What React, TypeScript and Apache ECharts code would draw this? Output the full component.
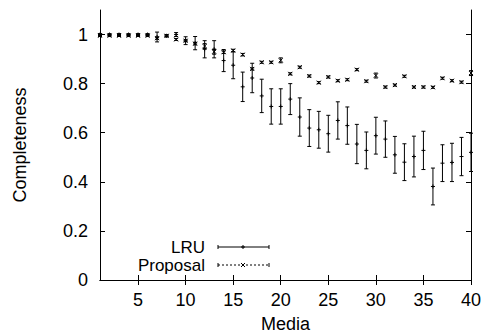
import React, { useEffect, useRef } from "react";
import * as echarts from "echarts";

const media = [1, 2, 3, 4, 5, 6, 7, 8, 9, 10, 11, 12, 13, 14, 15, 16, 17, 18, 19, 20, 21, 22, 23, 24, 25, 26, 27, 28, 29, 30, 31, 32, 33, 34, 35, 36, 37, 38, 39, 40];
const lruMean = [1.0, 1.0, 1.0, 1.0, 1.0, 1.0, 0.99, 0.995, 1.0, 0.975, 0.965, 0.94, 0.94, 0.894, 0.875, 0.787, 0.823, 0.75, 0.707, 0.707, 0.737, 0.664, 0.619, 0.612, 0.596, 0.65, 0.629, 0.554, 0.528, 0.588, 0.574, 0.51, 0.48, 0.503, 0.528, 0.381, 0.476, 0.479, 0.503, 0.52];
const lruErr = [0.004, 0.004, 0.004, 0.004, 0.004, 0.004, 0.02, 0.005, 0.008, 0.016, 0.027, 0.035, 0.035, 0.045, 0.055, 0.06, 0.06, 0.068, 0.072, 0.072, 0.063, 0.078, 0.075, 0.075, 0.075, 0.076, 0.076, 0.08, 0.075, 0.075, 0.074, 0.075, 0.075, 0.083, 0.078, 0.075, 0.075, 0.078, 0.078, 0.078];
const propMean = [0.995, 0.995, 0.995, 0.995, 0.995, 0.995, 0.985, 0.995, 0.98, 0.975, 0.963, 0.953, 0.93, 0.928, 0.935, 0.918, 0.86, 0.887, 0.887, 0.895, 0.84, 0.867, 0.831, 0.804, 0.827, 0.812, 0.816, 0.857, 0.81, 0.833, 0.786, 0.794, 0.83, 0.786, 0.786, 0.785, 0.822, 0.812, 0.806, 0.843];
const propErr = [0.003, 0.003, 0.003, 0.003, 0.003, 0.003, 0.004, 0.003, 0.004, 0.004, 0.005, 0.01, 0.01, 0.005, 0.005, 0.005, 0.004, 0.004, 0.004, 0.01, 0.004, 0.004, 0.004, 0.004, 0.004, 0.004, 0.004, 0.004, 0.004, 0.01, 0.004, 0.004, 0.004, 0.004, 0.004, 0.004, 0.004, 0.004, 0.004, 0.01];
const xTicks = [5, 10, 15, 20, 25, 30, 35, 40];
const yTicks = [0, 0.2, 0.4, 0.6, 0.8, 1];

const FONT = "'Liberation Sans', Arial, Helvetica, sans-serif";
const FS = 18;

function makeRender(kind: "plus" | "cross") {
  return (params: any, api: any) => {
    const x = api.value(0);
    const y = api.value(1);
    const lo = api.value(2);
    const hi = api.value(3);
    const p = api.coord([x, y]);
    const pl = api.coord([x, lo]);
    const ph = api.coord([x, hi]);
    const st = { stroke: "#000", lineWidth: 1 };
    const c = 2;
    const m = 2;
    const children: any[] = [
      { type: "line", shape: { x1: pl[0], y1: pl[1], x2: ph[0], y2: ph[1] }, style: st },
      { type: "line", shape: { x1: pl[0] - c, y1: pl[1], x2: pl[0] + c, y2: pl[1] }, style: st },
      { type: "line", shape: { x1: ph[0] - c, y1: ph[1], x2: ph[0] + c, y2: ph[1] }, style: st },
    ];
    if (kind === "plus") {
      children.push({ type: "line", shape: { x1: p[0] - m, y1: p[1], x2: p[0] + m, y2: p[1] }, style: st });
      children.push({ type: "line", shape: { x1: p[0], y1: p[1] - m, x2: p[0], y2: p[1] + m }, style: st });
    } else {
      children.push({ type: "line", shape: { x1: p[0] - m, y1: p[1] - m, x2: p[0] + m, y2: p[1] + m }, style: st });
      children.push({ type: "line", shape: { x1: p[0] - m, y1: p[1] + m, x2: p[0] + m, y2: p[1] - m }, style: st });
    }
    return { type: "group", children };
  };
}

export default function App() {
  const ref = useRef<HTMLDivElement>(null);
  useEffect(() => {
    if (!ref.current) return;
    const chart = echarts.init(ref.current, null, { renderer: "svg" });
    const lruData = media.map((m, i) => [m, lruMean[i], lruMean[i] - lruErr[i], lruMean[i] + lruErr[i]]);
    const propData = media.map((m, i) => [m, propMean[i], propMean[i] - propErr[i], propMean[i] + propErr[i]]);
    const axisLine = { show: true, lineStyle: { color: "#000", width: 1 } };
    const lx = 218, rx = 269, mx = 243, y1 = 247, y2 = 265;
    const st = { stroke: "#000", lineWidth: 1 };
    chart.setOption({
      animation: false,
      backgroundColor: "#fff",
      textStyle: { fontFamily: FONT },
      grid: { left: 100, right: 15, top: 10, bottom: 56, containLabel: false, outerBoundsMode: "none" },
      xAxis: [
        {
          type: "value", min: 1, max: 40, position: "bottom",
          name: "Media", nameLocation: "middle", nameGap: 35,
          nameTextStyle: { fontFamily: FONT, fontSize: FS, color: "#000" },
          axisLine,
          axisTick: { show: true, inside: true, length: 5, customValues: xTicks, lineStyle: { color: "#000" } },
          axisLabel: { show: true, customValues: xTicks, fontFamily: FONT, fontSize: FS, color: "#000", margin: 11 },
          splitLine: { show: false },
        },
        {
          type: "value", min: 1, max: 40, position: "top",
          axisLine,
          axisTick: { show: true, inside: true, length: 5, customValues: xTicks, lineStyle: { color: "#000" } },
          axisLabel: { show: false },
          splitLine: { show: false },
        },
      ],
      yAxis: [
        {
          type: "value", min: 0, max: 1.1, position: "left",
          name: "Completeness", nameLocation: "middle", nameGap: 71,
          nameTextStyle: { fontFamily: FONT, fontSize: FS, color: "#000" },
          axisLine,
          axisTick: { show: true, inside: true, length: 5, customValues: yTicks, lineStyle: { color: "#000" } },
          axisLabel: { show: true, customValues: yTicks, fontFamily: FONT, fontSize: FS, color: "#000", margin: 12, formatter: (v: number) => String(+v.toFixed(1)) },
          splitLine: { show: false },
        },
        {
          type: "value", min: 0, max: 1.1, position: "right",
          axisLine,
          axisTick: { show: true, inside: true, length: 5, customValues: yTicks, lineStyle: { color: "#000" } },
          axisLabel: { show: false },
          splitLine: { show: false },
        },
      ],
      series: [
        { type: "custom", name: "LRU", xAxisIndex: 0, yAxisIndex: 0, renderItem: makeRender("plus"), encode: { x: 0, y: 1 }, data: lruData },
        { type: "custom", name: "Proposal", xAxisIndex: 0, yAxisIndex: 0, renderItem: makeRender("cross"), encode: { x: 0, y: 1 }, data: propData },
      ],
      graphic: [
        { type: "text", x: 205, y: y1, style: { text: "LRU", font: `17px ${FONT}`, fill: "#000", textAlign: "right", textVerticalAlign: "middle", lineHeight: 17 } },
        { type: "text", x: 205, y: y2, style: { text: "Proposal", font: `17px ${FONT}`, fill: "#000", textAlign: "right", textVerticalAlign: "middle", lineHeight: 17 } },
        { type: "line", shape: { x1: lx, y1: y1, x2: rx, y2: y1 }, style: st },
        { type: "line", shape: { x1: lx, y1: y1 - 2, x2: lx, y2: y1 + 2 }, style: st },
        { type: "line", shape: { x1: rx, y1: y1 - 2, x2: rx, y2: y1 + 2 }, style: st },
        { type: "line", shape: { x1: mx - 2, y1: y1, x2: mx + 2, y2: y1 }, style: st },
        { type: "line", shape: { x1: mx, y1: y1 - 2, x2: mx, y2: y1 + 2 }, style: st },
        { type: "line", shape: { x1: lx, y1: y2, x2: rx, y2: y2 }, style: { stroke: "#000", lineWidth: 1, lineDash: [2, 2] } },
        { type: "line", shape: { x1: lx, y1: y2 - 2, x2: lx, y2: y2 + 2 }, style: st },
        { type: "line", shape: { x1: rx, y1: y2 - 2, x2: rx, y2: y2 + 2 }, style: st },
        { type: "line", shape: { x1: mx - 2, y1: y2 - 2, x2: mx + 2, y2: y2 + 2 }, style: st },
        { type: "line", shape: { x1: mx - 2, y1: y2 + 2, x2: mx + 2, y2: y2 - 2 }, style: st },
      ],
    });
    return () => chart.dispose();
  }, []);
  return <div ref={ref} style={{ position: "fixed", left: 0, top: 0, width: 486, height: 336 }} />;
}
